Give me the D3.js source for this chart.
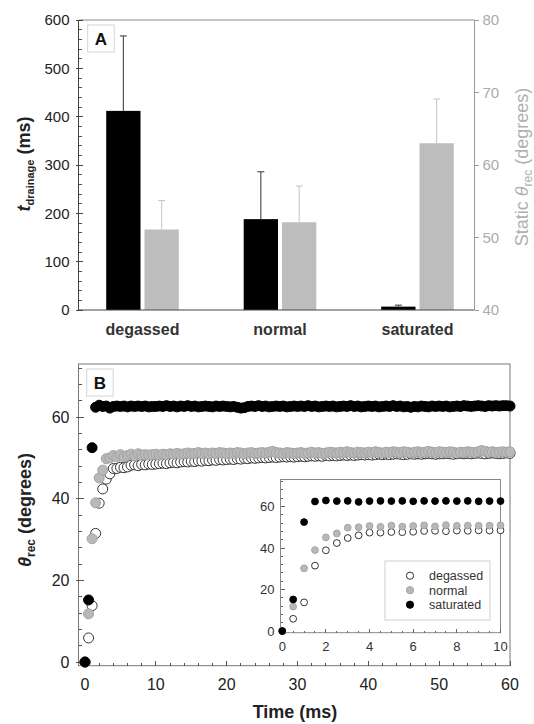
<!DOCTYPE html>
<html>
<head>
<meta charset="utf-8">
<script src="https://cdn.jsdelivr.net/npm/d3@7"></script>
<style>
  body { margin: 0; background: #fff; }
  svg { display: block; font-family: "Liberation Sans", Arial, sans-serif; }
</style>
</head>
<body>
<div id="chart"></div>
<script>
// ---- panel A data ----
const CATEGORIES = ["degassed", "normal", "saturated"];
const DRAINAGE_MS = [412, 188, 7];
const DRAINAGE_ERR = [155, 98, 3];
const STATIC_REC = [51.1, 52.1, 63.0];
const STATIC_ERR = [4.0, 5.0, 6.1];
const A_LEFT_TICKS = [0, 100, 200, 300, 400, 500, 600];
const A_RIGHT_TICKS = [40, 50, 60, 70, 80];

// ---- panel B data ----
const TIME_MS = [
  0, 0.5, 1, 1.5, 2, 2.5, 3, 3.5, 4, 4.5, 5, 5.5, 6, 6.5, 7, 7.5, 8, 8.5, 9, 9.5, 10,
  10.5, 11, 11.5, 12, 12.5, 13, 13.5, 14, 14.5, 15, 15.5, 16, 16.5, 17, 17.5, 18, 18.5, 19, 19.5, 20,
  20.5, 21, 21.5, 22, 22.5, 23, 23.5, 24, 24.5, 25, 25.5, 26, 26.5, 27, 27.5, 28, 28.5, 29, 29.5, 30,
  30.5, 31, 31.5, 32, 32.5, 33, 33.5, 34, 34.5, 35, 35.5, 36, 36.5, 37, 37.5, 38, 38.5, 39, 39.5, 40,
  40.5, 41, 41.5, 42, 42.5, 43, 43.5, 44, 44.5, 45, 45.5, 46, 46.5, 47, 47.5, 48, 48.5, 49, 49.5, 50,
  50.5, 51, 51.5, 52, 52.5, 53, 53.5, 54, 54.5, 55, 55.5, 56, 56.5, 57, 57.5, 58, 58.5, 59, 59.5, 60
];
const DEGASSED = [
  0, 5.9, 13.8, 31.5, 38.9, 42.4, 44.8, 46.1, 47.4, 47.4, 47.7, 47.6, 47.8, 48.2, 48.3, 48.1, 48.4, 48.3, 48.5, 48.4, 48.5,
  48.6, 48.7, 48.6, 48.8, 48.9, 48.8, 49.0, 49.1, 49.0, 49.2, 49.1, 49.3, 49.2, 49.4, 49.3, 49.5, 49.4, 49.6, 49.5, 49.6,
  49.7, 49.6, 49.8, 49.7, 49.9, 49.8, 50.0, 49.9, 50.0, 50.1, 50.0, 50.1, 50.2, 50.1, 50.2, 50.3, 50.2, 50.3, 50.2, 50.3,
  50.4, 50.3, 50.4, 50.5, 50.4, 50.5, 50.4, 50.6, 50.5, 50.6, 50.5, 50.6, 50.7, 50.6, 50.7, 50.6, 50.7, 50.8, 50.7, 50.8,
  50.7, 50.8, 50.9, 50.8, 50.9, 50.8, 50.9, 51.0, 50.9, 50.8, 50.9, 51.0, 50.9, 51.0, 50.9, 51.0, 51.1, 51.0, 50.9, 51.0,
  51.0, 51.1, 51.0, 50.9, 51.0, 51.1, 51.0, 51.1, 51.0, 51.1, 51.2, 51.1, 51.0, 51.1, 51.2, 51.1, 51.0, 51.1, 51.2, 51.1
];
const NORMAL = [
  0, 11.8, 30.2, 39.0, 45.1, 47.0, 49.8, 50.0, 50.6, 50.2, 50.8, 50.3, 50.6, 50.9, 50.4, 51.0, 50.7, 50.8, 50.7, 50.8, 50.9,
  50.7, 50.9, 50.8, 51.0, 50.9, 51.1, 50.9, 51.0, 51.2, 51.0, 51.1, 51.3, 51.1, 51.2, 51.0, 51.2, 51.1, 51.3, 51.2, 51.1,
  51.2, 51.1, 51.3, 51.2, 51.0, 51.2, 51.3, 51.1, 51.2, 51.3, 51.2, 51.4, 51.6, 51.3, 51.2, 51.1, 51.3, 51.2, 51.1, 51.2,
  51.3, 51.1, 51.2, 51.4, 51.2, 51.3, 51.1, 51.2, 51.4, 51.3, 51.2, 51.4, 51.3, 51.5, 51.3, 51.2, 51.4, 51.3, 51.2, 51.4,
  51.3, 51.5, 51.3, 51.2, 51.4, 51.3, 51.5, 51.4, 51.3, 51.5, 51.4, 51.2, 51.4, 51.5, 51.3, 51.4, 51.6, 51.4, 51.3, 51.5,
  51.4, 51.3, 51.5, 51.4, 51.2, 51.4, 51.3, 51.5, 51.4, 51.3, 51.5, 51.8, 51.6, 51.4, 51.5, 51.3, 51.4, 51.5, 51.4, 51.5
];
const SATURATED = [
  0, 15.2, 52.5, 62.4, 62.9, 62.6, 62.7, 62.2, 62.6, 62.7, 62.6, 62.7, 62.5, 62.7, 62.6, 62.7, 62.6, 62.7, 62.5, 62.6, 62.6,
  62.7, 62.6, 62.8, 62.6, 62.7, 62.5, 62.7, 62.6, 62.8, 62.6, 62.7, 62.5, 62.6, 62.7, 62.6, 62.5, 62.7, 62.6, 62.7, 62.6,
  62.5, 62.6, 62.4, 62.2, 62.3, 62.6, 62.7, 62.6, 62.8, 62.6, 62.7, 62.5, 62.6, 62.7, 62.6, 62.7, 62.5, 62.6, 62.7, 62.6,
  62.7, 62.6, 62.8, 62.6, 62.7, 62.5, 62.6, 62.7, 62.6, 62.7, 62.5, 62.6, 62.7, 62.6, 62.8, 62.6, 62.7, 62.5, 62.6, 62.7,
  62.6, 62.7, 62.5, 62.6, 62.7, 62.6, 62.8, 62.6, 62.7, 62.5, 62.6, 62.4, 62.6, 62.5, 62.7, 62.6, 62.5, 62.7, 62.6, 62.7,
  62.6, 62.7, 62.5, 62.6, 62.7, 62.6, 62.8, 62.7, 62.6, 62.7, 62.8, 62.7, 62.6, 62.8, 62.7, 62.8, 62.7, 62.8, 62.8, 62.7
];
const B_X_TICKS = [0, 10, 20, 30, 40, 50, 60];
const B_Y_TICKS = [0, 20, 40, 60];
const INSET_X_TICKS = [0, 2, 4, 6, 8, 10];
const INSET_Y_TICKS = [0, 20, 40, 60];

const SERIES = [
  { name: "degassed",  values: DEGASSED,  fill: "#fff",    stroke: "#333" },
  { name: "normal",    values: NORMAL,    fill: "#b8b8b8", stroke: "#a4a4a4" },
  { name: "saturated", values: SATURATED, fill: "#000",    stroke: "#000" },
];

const W = 534, H = 724;
const svg = d3.select("#chart").append("svg").attr("width", W).attr("height", H);

// tick marks: for "y" ticks, horizontal lines at scale(v) from pos+a to pos+b
function tickLines(g, scale, values, dir, pos, a, b, color) {
  const sel = g.append("g").selectAll("line").data(values).join("line")
    .attr("stroke", color).attr("stroke-width", 1).attr("shape-rendering", "crispEdges");
  if (dir === "y") {
    sel.attr("y1", d => scale(d)).attr("y2", d => scale(d)).attr("x1", pos + a).attr("x2", pos + b);
  } else {
    sel.attr("x1", d => scale(d)).attr("x2", d => scale(d)).attr("y1", pos + a).attr("y2", pos + b);
  }
}

function minors(domain, step, majorStep) {
  return d3.range(domain[0], domain[1] + 1e-9, step).filter(v => Math.abs(v / majorStep - Math.round(v / majorStep)) > 1e-6);
}

// ================= Panel A =================
const A = { l: 78.5, r: 474.5, t: 20, b: 310 };
const yL = d3.scaleLinear().domain([0, 600]).range([A.b, A.t]);
const yR = d3.scaleLinear().domain([40, 80]).range([A.b, A.t]);
const xCat = d3.scalePoint().domain(CATEGORIES).range([142.5, 417.5]);
const BW = 34.3, HG = 2;

const gA = svg.append("g");

// bars
gA.selectAll(".bar-black").data(CATEGORIES).join("rect")
  .attr("x", c => xCat(c) - HG - BW)
  .attr("y", (c, i) => yL(DRAINAGE_MS[i]))
  .attr("width", BW)
  .attr("height", (c, i) => A.b - yL(DRAINAGE_MS[i]))
  .attr("fill", "#000");

gA.selectAll(".bar-gray").data(CATEGORIES).join("rect")
  .attr("x", c => xCat(c) + HG)
  .attr("y", (c, i) => yR(STATIC_REC[i]))
  .attr("width", BW)
  .attr("height", (c, i) => A.b - yR(STATIC_REC[i]))
  .attr("fill", "#bdbdbd");

// error bars (upper only)
function errBar(cx, y0, y1, color) {
  gA.append("line").attr("x1", cx).attr("x2", cx).attr("y1", y0).attr("y2", y1)
    .attr("stroke", color).attr("stroke-width", 1);
  gA.append("line").attr("x1", cx - 3.5).attr("x2", cx + 3.5).attr("y1", y1).attr("y2", y1)
    .attr("stroke", color).attr("stroke-width", 1);
}
CATEGORIES.forEach((c, i) => {
  errBar(xCat(c) - HG - BW / 2, yL(DRAINAGE_MS[i]), yL(DRAINAGE_MS[i] + DRAINAGE_ERR[i]), "#333");
  errBar(xCat(c) + HG + BW / 2, yR(STATIC_REC[i]), yR(STATIC_REC[i] + STATIC_ERR[i]), "#c4c4c4");
});

// frame
gA.append("line").attr("x1", A.l).attr("x2", A.r).attr("y1", A.t).attr("y2", A.t).attr("stroke", "#8a8a8a");
gA.append("line").attr("x1", A.r).attr("x2", A.r).attr("y1", A.t).attr("y2", A.b).attr("stroke", "#9a9a9a");
gA.append("line").attr("x1", A.l).attr("x2", A.r).attr("y1", A.b).attr("y2", A.b).attr("stroke", "#444");
gA.append("line").attr("x1", A.l).attr("x2", A.l).attr("y1", A.t).attr("y2", A.b).attr("stroke", "#444");

// left ticks
tickLines(gA, yL, A_LEFT_TICKS, "y", A.l, -3, 4, "#444");
tickLines(gA, yL, minors([0, 600], 20, 100), "y", A.l, 0, 3, "#555");
gA.append("g").selectAll("text").data(A_LEFT_TICKS).join("text")
  .attr("x", A.l - 9).attr("y", d => yL(d)).attr("dy", "0.36em")
  .attr("text-anchor", "end").attr("font-size", 15).attr("fill", "#222")
  .text(d => d);

// right ticks
tickLines(gA, yR, A_RIGHT_TICKS, "y", A.r, 0, 4, "#9a9a9a");
gA.append("g").selectAll("text").data(A_RIGHT_TICKS).join("text")
  .attr("x", A.r + 8).attr("y", d => yR(d)).attr("dy", "0.36em")
  .attr("text-anchor", "start").attr("font-size", 15).attr("fill", "#ababab")
  .text(d => d);

// category labels
gA.append("g").selectAll("text").data(CATEGORIES).join("text")
  .attr("x", c => xCat(c)).attr("y", 335)
  .attr("text-anchor", "middle").attr("font-size", 16).attr("font-weight", "bold").attr("fill", "#333")
  .text(c => c);

// axis titles
const tL = gA.append("text").attr("transform", "translate(30,164) rotate(-90)")
  .attr("text-anchor", "middle").attr("font-size", 18).attr("font-weight", "bold").attr("fill", "#222");
tL.append("tspan").attr("font-style", "italic").text("t");
tL.append("tspan").attr("font-size", 11).attr("dy", 4).text("drainage");
tL.append("tspan").attr("dy", -4).text(" (ms)");

const tR = gA.append("text").attr("transform", "translate(528,167) rotate(-90)")
  .attr("text-anchor", "middle").attr("font-size", 18).attr("fill", "#b0b0b0");
tR.append("tspan").text("Static ");
tR.append("tspan").attr("font-style", "italic").text("θ");
tR.append("tspan").attr("font-size", 12).attr("dy", 4).text("rec");
tR.append("tspan").attr("dy", -4).text(" (degrees)");

// panel letter
function panelLetter(g, x, y, letter) {
  g.append("rect").attr("x", x).attr("y", y).attr("width", 26.5).attr("height", 27)
    .attr("fill", "#fff").attr("stroke", "#d4d4d4");
  g.append("text").attr("x", x + 13.25).attr("y", y + 19.5).attr("text-anchor", "middle")
    .attr("font-size", 17).attr("font-weight", "bold").attr("fill", "#111").text(letter);
}
panelLetter(gA, 87.7, 25, "A");

// ================= Panel B =================
const B = { l: 78.5, r: 510, t: 364, b: 665.7 };
const xB = d3.scaleLinear().domain([-0.92, 60]).range([B.l, B.r]);
const yB = d3.scaleLinear().domain([-0.9, 73]).range([B.b, B.t]);
const gB = svg.append("g");

gB.append("rect").attr("x", B.l).attr("y", B.t).attr("width", B.r - B.l).attr("height", B.b - B.t)
  .attr("fill", "none").attr("stroke", "#777");

tickLines(gB, xB, B_X_TICKS, "x", B.b, -5, 0, "#555");
tickLines(gB, xB, minors([0, 60], 2, 10), "x", B.b, -3, 0, "#555");
tickLines(gB, yB, B_Y_TICKS, "y", B.l, -3, 5, "#555");
tickLines(gB, yB, minors([0, 72], 4, 20), "y", B.l, 0, 3, "#555");

gB.append("g").selectAll("text").data(B_X_TICKS).join("text")
  .attr("x", d => xB(d)).attr("y", 690)
  .attr("text-anchor", "middle").attr("font-size", 16).attr("fill", "#222").text(d => d);
gB.append("g").selectAll("text").data(B_Y_TICKS).join("text")
  .attr("x", B.l - 9).attr("y", d => yB(d)).attr("dy", "0.36em")
  .attr("text-anchor", "end").attr("font-size", 16).attr("fill", "#222").text(d => d);

gB.append("text").attr("x", 295).attr("y", 718).attr("text-anchor", "middle")
  .attr("font-size", 18).attr("font-weight", "bold").attr("fill", "#222").text("Time (ms)");

const tB = gB.append("text").attr("transform", "translate(31,510) rotate(-90)")
  .attr("text-anchor", "middle").attr("font-size", 18).attr("font-weight", "bold").attr("fill", "#222");
tB.append("tspan").attr("font-style", "italic").text("θ");
tB.append("tspan").attr("font-size", 12).attr("dy", 4).text("rec");
tB.append("tspan").attr("dy", -4).text(" (degrees)");

panelLetter(gB, 86.7, 369, "B");

// main scatter
SERIES.forEach(s => {
  gB.append("g").selectAll("circle").data(TIME_MS).join("circle")
    .attr("cx", d => xB(d))
    .attr("cy", (d, i) => yB(s.values[i]))
    .attr("r", 5)
    .attr("fill", s.fill).attr("stroke", s.stroke).attr("stroke-width", 1);
});

// ================= Inset =================
const I = { l: 280.5, r: 500.5, t: 479.5, b: 632.7 };
const xI = d3.scaleLinear().domain([-0.08, 10]).range([I.l, I.r]);
const yI = d3.scaleLinear().domain([-0.8, 73]).range([I.b, I.t]);
const gI = svg.append("g");

gI.append("rect").attr("x", I.l).attr("y", I.t).attr("width", I.r - I.l).attr("height", I.b - I.t)
  .attr("fill", "#fff").attr("stroke", "#888");

tickLines(gI, xI, INSET_X_TICKS, "x", I.b, -4, 0, "#666");
tickLines(gI, xI, minors([0, 10], 0.5, 2), "x", I.b, -2, 0, "#666");
tickLines(gI, yI, INSET_Y_TICKS, "y", I.l, 0, 4, "#666");
tickLines(gI, yI, minors([0, 72], 4, 20), "y", I.l, 0, 2, "#666");

gI.append("g").selectAll("text").data(INSET_X_TICKS).join("text")
  .attr("x", d => xI(d)).attr("y", 651)
  .attr("text-anchor", "middle").attr("font-size", 13).attr("fill", "#333").text(d => d);
gI.append("g").selectAll("text").data(INSET_Y_TICKS).join("text")
  .attr("x", I.l - 6).attr("y", d => yI(d)).attr("dy", "0.36em")
  .attr("text-anchor", "end").attr("font-size", 13).attr("fill", "#333").text(d => d);

const insetIdx = TIME_MS.map((t, i) => i).filter(i => TIME_MS[i] <= 10);
SERIES.forEach(s => {
  gI.append("g").selectAll("circle").data(insetIdx).join("circle")
    .attr("cx", i => xI(TIME_MS[i]))
    .attr("cy", i => yI(s.values[i]))
    .attr("r", 3.4)
    .attr("fill", s.fill).attr("stroke", s.stroke).attr("stroke-width", 1);
});

// legend
const LEG = { x: 385, y: 561, w: 105, h: 59 };
gI.append("rect").attr("x", LEG.x).attr("y", LEG.y).attr("width", LEG.w).attr("height", LEG.h)
  .attr("fill", "#fff").attr("stroke", "#cfcfcf");
const legRows = gI.append("g").selectAll("g").data(SERIES).join("g")
  .attr("transform", (s, i) => `translate(${LEG.x + 25},${575.7 + i * 14.5})`);
legRows.append("circle").attr("r", 3.6)
  .attr("fill", s => s.fill).attr("stroke", s => s.stroke).attr("stroke-width", 1);
legRows.append("text").attr("x", 19).attr("dy", "0.36em")
  .attr("font-size", 12.5).attr("fill", "#333").text(s => s.name);
</script>
</body>
</html>
